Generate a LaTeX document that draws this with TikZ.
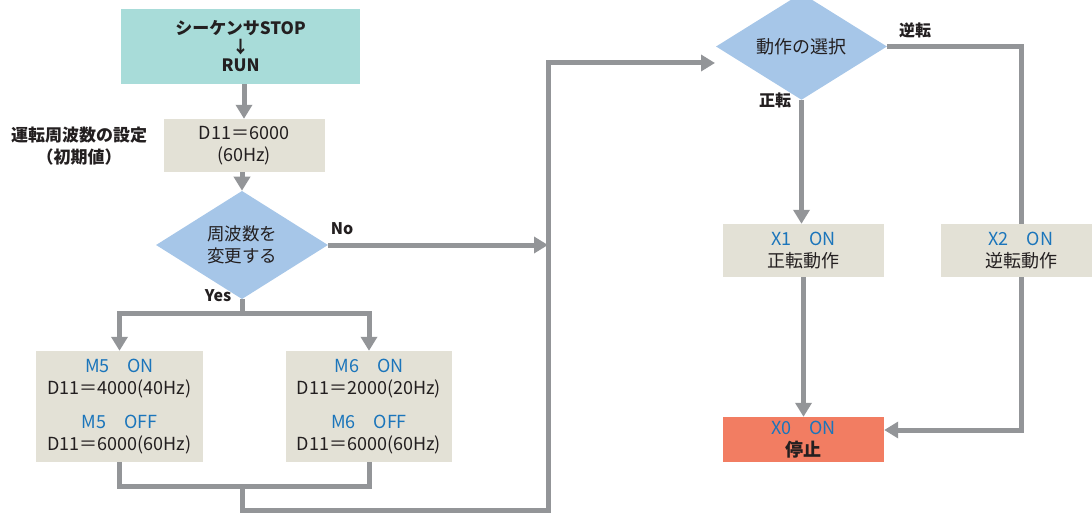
\documentclass[tikz,border=0pt]{standalone}
\usepackage{fontspec}
\setmainfont{Noto Sans CJK JP}
\usetikzlibrary{arrows.meta,shapes.geometric}

\definecolor{flowgray}{HTML}{939598}
\definecolor{txtdark}{HTML}{231F20}
\definecolor{txtblue}{HTML}{1B75BB}
\definecolor{startfill}{HTML}{A8DCD9}
\definecolor{procfill}{HTML}{E3E1D6}
\definecolor{decfill}{HTML}{A6C6E8}
\definecolor{stopfill}{HTML}{F27D62}

\begin{document}
\begin{tikzpicture}[x=1pt,y={(0pt,-1pt)},
  every node/.style={text=txtdark, inner sep=0pt},
  boxtxt/.style={font=\fontsize{18}{22}\selectfont, align=center},
  procbox/.style={boxtxt, fill=procfill, minimum width=161pt, minimum height=53pt},
  decision/.style={diamond, fill=decfill, font=\fontsize{17.5}{22}\selectfont, align=center},
  tag/.style={font=\bfseries\fontsize{16}{20}\selectfont},
  flow/.style={draw=flowgray, line width=5pt},
  arr/.style={flow, -{Triangle[length=14pt,width=16pt]}},
  hi/.style={text=txtblue}
]
\useasboundingbox (0,0) rectangle (1092,513);

% --- main sequence ---
\node[boxtxt, font=\bfseries\fontsize{17}{18.5}\selectfont, fill=startfill,
      minimum width=239pt, minimum height=75pt] (start) at (240.5,46.5)
      {シーケンサSTOP\\↓\\RUN};
\node[procbox] (init) at (244,145.5) {D11＝6000\\(60Hz)};
\node[tag, align=center, font=\bfseries\fontsize{17}{22}\selectfont] (initlbl) at (79,146)
      {運転周波数の設定\\（初期値）};
\node[decision, minimum width=172pt, minimum height=86pt] (chg) at (242,245)
      {周波数を\\変更する};

% --- frequency branches ---
\node[boxtxt, fill=procfill, minimum width=167pt, minimum height=111pt] (m5) at (119.5,406.5)
      {\textcolor{txtblue}{M5　ON}\\D11＝4000(40Hz)\\[12pt]\textcolor{txtblue}{M5　OFF}\\D11＝6000(60Hz)};
\node[boxtxt, fill=procfill, minimum width=166pt, minimum height=111pt] (m6) at (369,406.5)
      {\textcolor{txtblue}{M6　ON}\\D11＝2000(20Hz)\\[12pt]\textcolor{txtblue}{M6　OFF}\\D11＝6000(60Hz)};

% --- direction selection ---
\node[decision, font=\fontsize{18}{22}\selectfont, minimum width=171pt, minimum height=87pt] (sel) at (801.5,46.5)
      {動作の選択};
\node[procbox] (x1) at (803.5,250.5) {\textcolor{txtblue}{X1　ON}\\正転動作};
\node[procbox, minimum width=160pt] (x2) at (1021,250.5) {\textcolor{txtblue}{X2　ON}\\逆転動作};
\node[boxtxt, fill=stopfill, minimum width=161pt, minimum height=45pt] (x0) at (803.5,439.5)
      {\textcolor{txtblue}{X0　ON}\\\textbf{停止}};

% --- branch labels ---
\node[tag] (nolbl) at (342,229) {No};
\node[tag] (yeslbl) at (218,296) {Yes};
\node[tag] (revlbl) at (915,30) {逆転};
\node[tag] (fwdlbl) at (775,100) {正転};

% --- junction points ---
\coordinate (split) at (242,313);
\coordinate (merge) at (242,486);
\coordinate (loopL) at (242,510);
\coordinate (loopR) at (548,510);
\coordinate (noJoin) at (548,245);
\coordinate (loopT) at (548,63);
\coordinate (selIn) at (715,63);

% --- connectors ---
\draw[arr] (init.north |- start.south) -- (init.north);
\draw[arr] (init.south -| chg.north) -- (chg.north);
\draw[flow] (chg.south) -- (split);
\draw[arr] (split) -| (m5.north);
\draw[arr] (split) -| (m6.north);
\draw[flow] (m5.south) |- (merge) -| (m6.south);
\draw[arr] (merge) -- (loopL) -- (loopR) -- (loopT) -- (selIn);
\draw[arr] (chg.east) -- (noJoin);

\draw[arr] (sel.south) -- (sel.south |- x1.north);
\draw[arr] (x1.south -| x0.north) -- (x0.north);
\draw[flow] (sel.east) -| (x2.north);
\draw[arr] (x2.south) |- ([yshift=9.5pt]x0.east);
\end{tikzpicture}
\end{document}
